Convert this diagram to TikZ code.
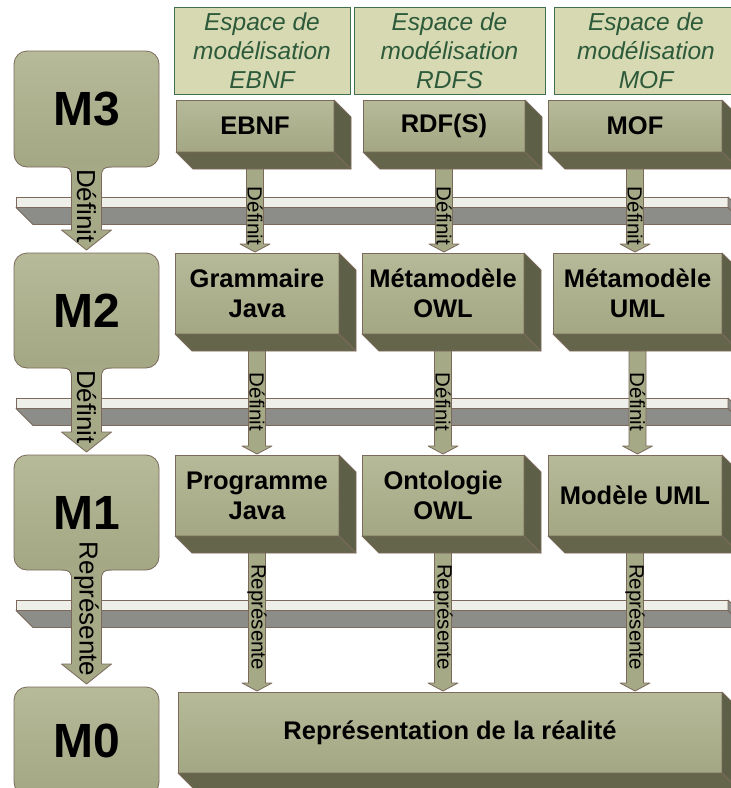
\documentclass[tikz,border=0pt]{standalone}
\usepackage{fontspec}
\setmainfont{Liberation Sans}
\usetikzlibrary{calc}

\pgfdeclarelayer{bars}
\pgfdeclarelayer{links}
\pgfsetlayers{bars,links,main}

\definecolor{olivetop}{HTML}{B7BA99}
\definecolor{olivebot}{HTML}{A4A783}
\definecolor{oliveside}{HTML}{5D5F47}
\definecolor{olivebase}{HTML}{64654B}
\definecolor{edge}{HTML}{7B6A5C}
\definecolor{armfill}{HTML}{A6A986}
\definecolor{slabtop}{HTML}{EFEFEA}
\definecolor{slabface}{HTML}{8C8C88}
\definecolor{headfill}{HTML}{D7D9B2}
\definecolor{headline}{HTML}{41704F}
\definecolor{headtext}{HTML}{2C5A3A}

\tikzset{
  every node/.style={inner sep=0pt, outer sep=0pt},
  facet/.style={draw=edge, line width=0.8pt, line join=round},
  box/.style={draw=edge, line width=0.8pt, top color=olivetop, bottom color=olivebot,
    anchor=north west, align=center, font=\fontsize{25.5}{30}\selectfont\bfseries},
  level/.style={draw=edge, line width=0.8pt, rounded corners=13, top color=olivetop,
    bottom color=olivebot, anchor=north west, minimum width=145,
    font=\fontsize{48}{52}\selectfont\bfseries},
  head/.style={draw=headline, line width=0.8pt, fill=headfill, anchor=north west,
    align=center, text=headtext, font=\fontsize{24.5}{29}\selectfont\itshape},
  slab/.style={draw=edge, line width=0.8pt, fill=slabtop, anchor=north west,
    minimum width=712, minimum height=10.5},
  flowtext/.style={rotate=-90, font=\fontsize{20.5}{22}\selectfont},
  desctext/.style={rotate=-90, font=\fontsize{26}{28}\selectfont},
}

% depth faces (right side and bottom) of an extruded node
\newcommand\extrude[3]{%
  \filldraw[fill=#2, facet] (#1.north east) -- ++(17,17)
    -- ($(#1.south east)+(17,17)$) -- (#1.south east) -- cycle;
  \filldraw[fill=#3, facet] (#1.south west) -- (#1.south east)
    -- ($(#1.south east)+(17,17)$) -- ($(#1.south west)+(17,17)$) -- cycle;}

% extruded box: name, x1, y1, x2, y2, text
\newcommand\cube[6]{%
  \node[box, minimum width={#4-#2}, minimum height={#5-#3}] (#1) at (#2,#3) {#6};
  \extrude{#1}{oliveside}{olivebase}}

% block arrow between two boxes of a column: source, target, label name, label offset, label
\newcommand\flow[5]{%
  \begin{pgfonlayer}{links}
    \coordinate (s) at (#1.south);
    \coordinate (t) at ($(#1.south |- #2.north)+(0,-1)$);
    \filldraw[fill=armfill, facet] ($(s)+(-8.5,0)$) -- ($(t)+(-8.5,-8)$)
      -- ($(t)+(-15,-8)$) -- (t) -- ($(t)+(15,-8)$) -- ($(t)+(8.5,-8)$)
      -- ($(s)+(8.5,0)$) -- cycle;
  \end{pgfonlayer}
  \node[flowtext] (#3) at ($(s)+(0,#4)$) {#5};}

% stem growing out of a level box down to the next one: source, target, label name, label
\newcommand\descend[4]{%
  \coordinate (a) at (#1.south);
  \coordinate (t) at ($(#1.south |- #2.north)+(0,-3)$);
  \fill[armfill] ($(a)+(-25,-3)$) -- ($(a)+(-25,0)$)
    .. controls ($(a)+(-17,0)$) and ($(a)+(-15,2)$) .. ($(a)+(-15,10)$)
    -- ($(t)+(-15,-20)$) -- ($(t)+(-25,-20)$) -- (t) -- ($(t)+(25,-20)$)
    -- ($(t)+(15,-20)$) -- ($(a)+(15,10)$)
    .. controls ($(a)+(15,2)$) and ($(a)+(17,0)$) .. ($(a)+(25,0)$)
    -- ($(a)+(25,-3)$) -- cycle;
  \draw[facet] ($(a)+(-25,0)$)
    .. controls ($(a)+(-17,0)$) and ($(a)+(-15,2)$) .. ($(a)+(-15,10)$)
    -- ($(t)+(-15,-20)$) -- ($(t)+(-25,-20)$) -- (t) -- ($(t)+(25,-20)$)
    -- ($(t)+(15,-20)$) -- ($(a)+(15,10)$)
    .. controls ($(a)+(15,2)$) and ($(a)+(17,0)$) .. ($(a)+(25,0)$);
  \node[desctext] (#3) at ($(a)+(0,39)$) {#4};}

\begin{document}
\begin{tikzpicture}[x=1pt, y=-1pt]
\useasboundingbox (0,0) rectangle (731,788);

% separating slabs between the levels
\begin{pgfonlayer}{bars}
  \node[slab] (slab1) at (16,197) {};
  \extrude{slab1}{slabface}{slabface}
  \node[slab] (slab2) at (16,398) {};
  \extrude{slab2}{slabface}{slabface}
  \node[slab] (slab3) at (16,600) {};
  \extrude{slab3}{slabface}{slabface}
\end{pgfonlayer}

% modelling spaces
\node[head, minimum width=176, minimum height=87] (hebnf) at (174,7) {Espace de\\modélisation\\EBNF};
\node[head, minimum width=191, minimum height=87] (hrdfs) at (354,7) {Espace de\\modélisation\\RDFS};
\node[head, minimum width=184, minimum height=87] (hmof) at (554,7) {Espace de\\modélisation\\MOF};

% levels
\node[level, minimum height=116] (m3) at (14,51) {M3};
\node[level, minimum height=115] (m2) at (14,253) {M2};
\node[level, minimum height=115] (m1) at (14,455) {M1};
\node[level, minimum height=108] (m0) at (14,687) {M0};

% models of each space
\cube{ebnf}{176}{100}{334}{152}{EBNF}
\cube{rdfs}{363}{100}{525}{152}{RDF(S)}
\cube{mof}{548}{100}{722}{152}{MOF}
\cube{gjava}{175}{253}{339}{334}{Grammaire\\Java}
\cube{mowl}{362}{253}{524}{334}{Métamodèle\\OWL}
\cube{muml}{553}{253}{722}{334}{Métamodèle\\UML}
\cube{pjava}{175}{455}{339}{536}{Programme\\Java}
\cube{owl}{362}{455}{524}{536}{Ontologie\\OWL}
\cube{uml}{548}{455}{722}{536}{Modèle UML}
\cube{real}{178}{692}{722}{773}{Représentation de la réalité}

% relations inside each column
\flow{ebnf}{gjava}{f1}{64}{Définit}
\flow{rdfs}{mowl}{f2}{64}{Définit}
\flow{mof}{muml}{f3}{64}{Définit}
\flow{gjava}{pjava}{f4}{68}{Définit}
\flow{mowl}{owl}{f5}{68}{Définit}
\flow{muml}{uml}{f6}{68}{Définit}
\flow{pjava}{real}{f7}{81}{Représente}
\flow{owl}{real}{f8}{81}{Représente}
\flow{uml}{real}{f9}{81}{Représente}

% relations between levels
\descend{m3}{m2}{d1}{Définit}
\descend{m2}{m1}{d2}{Définit}
\descend{m1}{m0}{d3}{Représente}
\end{tikzpicture}
\end{document}
